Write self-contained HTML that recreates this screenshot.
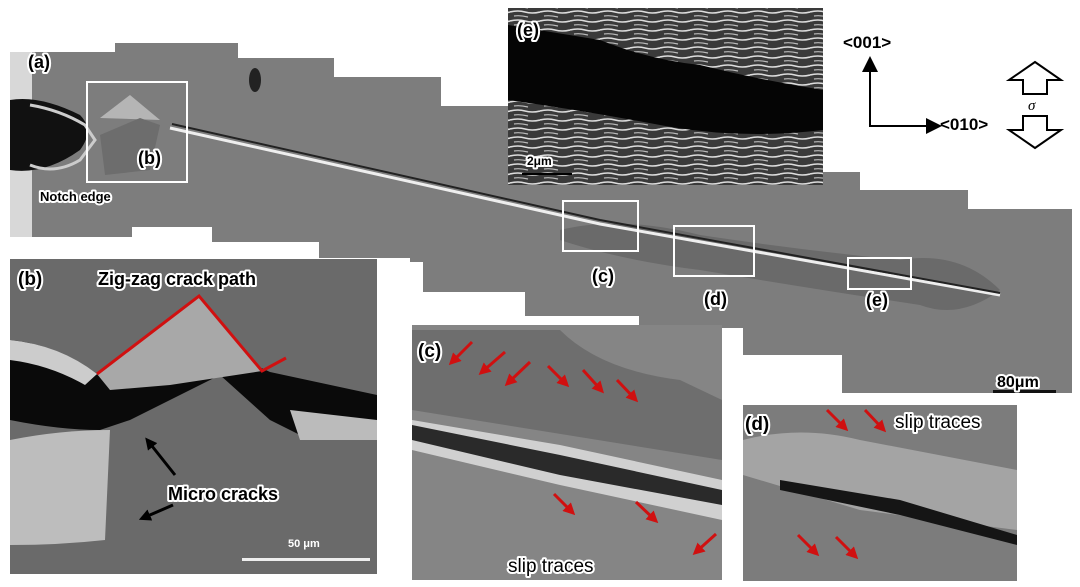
<!DOCTYPE html>
<html><head><meta charset="utf-8"><style>
html,body{margin:0;padding:0;background:#fff;}
svg{display:block;}
text{font-family:"Liberation Sans",sans-serif;font-weight:bold;}
.w text{fill:#fff;stroke:#fff;stroke-width:4px;stroke-linejoin:round;}
.k text{fill:#000;}
</style></head><body>
<svg width="1080" height="587" viewBox="0 0 1080 587" xmlns="http://www.w3.org/2000/svg">
<defs>
<pattern id="lam" width="30" height="9" patternUnits="userSpaceOnUse">
<rect width="30" height="9" fill="#3a3a3a"/>
<path d="M0 3 Q8 1 15 3 T30 3" stroke="#ddd" stroke-width="1.6" fill="none"/>
<path d="M4 7 Q10 6 18 8" stroke="#bbb" stroke-width="1.2" fill="none"/>
</pattern>
<marker id="ah" markerWidth="8" markerHeight="8" refX="6" refY="4" orient="auto"><path d="M0 0 L8 4 L0 8 z" fill="#000"/></marker>
<marker id="rh" markerWidth="4" markerHeight="4" refX="2.5" refY="2" orient="auto"><path d="M0 0 L4 2 L0 4 z" fill="#d01010"/></marker>
<marker id="kh" markerWidth="4" markerHeight="4" refX="2.5" refY="2" orient="auto"><path d="M0 0 L4 2 L0 4 z" fill="#000"/></marker>
</defs>

<polygon fill="#7d7d7d" points="10,52 115,52 115,43 238,43 238,58 334,58 334,77 441,77 441,106 508,106 508,185 823,185 823,172 860,172 860,190 968,190 968,209 1072,209 1072,393 842,393 842,355 743,355 743,328 639,328 639,316 525,316 525,292 423,292 423,262 410,262 410,258 319,258 319,242 212,242 212,227 132,227 132,237 10,237"/>
<rect x="10" y="52" width="22" height="185" fill="#d8d8d8"/>
<path d="M10 100 Q40 95 80 115 Q95 130 80 150 Q45 175 10 170 Z" fill="#111"/>
<path d="M30 105 Q60 110 85 125 L95 140 L80 160 Q55 175 30 165" fill="none" stroke="#ccc" stroke-width="3"/>
<polygon points="100,118 130,95 160,120" fill="#b5b5b5"/>
<polygon points="100,135 140,118 160,125 150,170 105,175" fill="#6d6d6d"/>
<ellipse cx="255" cy="80" rx="6" ry="12" fill="#222"/>
<path d="M560 230 Q620 215 700 235 Q800 250 900 260 Q960 250 1000 290 Q960 320 920 305 Q820 290 700 270 Q620 260 560 240 Z" fill="#5e5e5e" opacity="0.6"/>
<path d="M170 128 L600 224 L1000 295" stroke="#eee" stroke-width="3" fill="none"/>
<path d="M172 124 L600 220 L1000 293" stroke="#222" stroke-width="2" fill="none"/>
<rect x="87" y="82" width="100" height="100" fill="none" stroke="#fff" stroke-width="2"/>
<rect x="563" y="201" width="75" height="50" fill="none" stroke="#fff" stroke-width="2"/>
<rect x="674" y="226" width="80" height="50" fill="none" stroke="#fff" stroke-width="2"/>
<rect x="848" y="258" width="63" height="31" fill="none" stroke="#fff" stroke-width="2"/>

<rect x="508" y="8" width="315" height="177" fill="url(#lam)"/>
<path d="M508 25 L600 40 Q650 60 700 65 Q760 80 823 90 L823 130 Q740 140 660 125 Q580 110 508 100 Z" fill="#050505"/>
<rect x="522" y="173" width="50" height="2" fill="#000"/>
<rect x="993" y="390" width="63" height="3" fill="#111"/>

<line x1="870" y1="126" x2="870" y2="60" stroke="#000" stroke-width="2" marker-end="url(#ah)"/>
<line x1="869" y1="126" x2="938" y2="126" stroke="#000" stroke-width="2" marker-end="url(#ah)"/>
<text x="843" y="48" font-size="17">&lt;001&gt;</text>
<text x="940" y="130" font-size="17">&lt;010&gt;</text>
<polygon points="1035,62 1061,80 1047,80 1047,94 1023,94 1023,80 1009,80" fill="#fff" stroke="#000" stroke-width="2"/>
<polygon points="1035,148 1061,130 1047,130 1047,116 1023,116 1023,130 1009,130" fill="#fff" stroke="#000" stroke-width="2"/>
<text x="1028" y="110" font-size="15" style="font-family:'Liberation Serif',serif;font-weight:normal;font-style:italic">σ</text>

<!-- panel (b) -->
<rect x="10" y="259" width="367" height="315" fill="#6a6a6a"/>
<path d="M10 340 Q60 345 95 375 L200 340 L270 372 L377 395 L377 440 L300 435 L270 420 L220 375 L130 420 L100 430 Q60 430 10 420 Z" fill="#0a0a0a"/>
<path d="M10 340 Q60 345 97 374 L85 385 Q50 365 10 360 Z" fill="#ccc"/>
<polygon points="97,374 199,296 262,371 170,385 110,390" fill="#a8a8a8"/>
<path d="M10 440 Q60 430 110 430 L105 540 Q60 545 10 545 Z" fill="#bdbdbd"/>
<path d="M290 410 L377 420 L377 440 L300 440 Z" fill="#bbb"/>
<polyline points="97,374 199,296 262,371 286,358" fill="none" stroke="#d01010" stroke-width="3"/>
<line x1="175" y1="475" x2="148" y2="441" stroke="#000" stroke-width="3" marker-end="url(#kh)"/>
<line x1="173" y1="505" x2="143" y2="518" stroke="#000" stroke-width="3" marker-end="url(#kh)"/>
<text x="288" y="547" font-size="11" fill="#fff" font-weight="normal">50 μm</text>
<rect x="242" y="558" width="128" height="3" fill="#eee"/>

<!-- panel (c) -->
<rect x="412" y="325" width="310" height="255" fill="#858585"/>
<path d="M412 330 L560 330 Q600 370 680 380 L722 400 L722 460 L412 410 Z" fill="#6e6e6e"/>
<path d="M412 420 L560 445 L722 480 L722 520 L560 485 L412 450 Z" fill="#d0d0d0"/>
<path d="M412 425 L560 455 L722 490 L722 505 L560 475 L412 440 Z" fill="#2a2a2a"/>
<g stroke="#d01010" stroke-width="3" fill="none" marker-end="url(#rh)">
<line x1="472" y1="342" x2="452" y2="362"/><line x1="505" y1="352" x2="482" y2="372"/><line x1="530" y1="362" x2="508" y2="383"/>
<line x1="548" y1="366" x2="566" y2="384"/><line x1="583" y1="370" x2="601" y2="390"/><line x1="617" y1="380" x2="635" y2="399"/>
<line x1="554" y1="494" x2="572" y2="512"/><line x1="636" y1="502" x2="655" y2="520"/><line x1="716" y1="534" x2="696" y2="552"/>
</g>

<!-- panel (d) -->
<rect x="743" y="405" width="274" height="176" fill="#7c7c7c"/>
<path d="M743 440 Q800 425 860 440 L1017 470 L1017 530 L860 510 L743 475 Z" fill="#a4a4a4"/>
<path d="M780 480 L900 500 L1017 535 L1017 545 L900 515 L780 490 Z" fill="#151515"/>
<g stroke="#d01010" stroke-width="3" fill="none" marker-end="url(#rh)">
<line x1="827" y1="410" x2="845" y2="428"/><line x1="865" y1="410" x2="883" y2="429"/>
<line x1="798" y1="535" x2="816" y2="553"/><line x1="836" y1="537" x2="855" y2="556"/>
</g>

<!-- haloed labels: white underlay then black -->
<g class="w">
<text x="28" y="68" font-size="18">(a)</text>
<text x="138" y="164" font-size="18">(b)</text>
<text x="592" y="282" font-size="18">(c)</text>
<text x="704" y="305" font-size="18">(d)</text>
<text x="866" y="306" font-size="18">(e)</text>
<text x="997" y="387" font-size="16">80μm</text>
<text x="40" y="201" font-size="13">Notch edge</text>
<text x="517" y="36" font-size="18">(e)</text>
<text x="527" y="165" font-size="12">2μm</text>
<text x="18" y="285" font-size="19">(b)</text>
<text x="98" y="285" font-size="18">Zig-zag crack path</text>
<text x="168" y="500" font-size="18">Micro cracks</text>
<text x="418" y="357" font-size="19">(c)</text>
<text x="508" y="572" font-size="19" style="font-weight:normal">slip traces</text>
<text x="745" y="430" font-size="19">(d)</text>
<text x="895" y="428" font-size="19" style="font-weight:normal">slip traces</text>
</g>
<g class="k">
<text x="28" y="68" font-size="18">(a)</text>
<text x="138" y="164" font-size="18">(b)</text>
<text x="592" y="282" font-size="18">(c)</text>
<text x="704" y="305" font-size="18">(d)</text>
<text x="866" y="306" font-size="18">(e)</text>
<text x="997" y="387" font-size="16">80μm</text>
<text x="40" y="201" font-size="13">Notch edge</text>
<text x="517" y="36" font-size="18">(e)</text>
<text x="527" y="165" font-size="12">2μm</text>
<text x="18" y="285" font-size="19">(b)</text>
<text x="98" y="285" font-size="18">Zig-zag crack path</text>
<text x="168" y="500" font-size="18">Micro cracks</text>
<text x="418" y="357" font-size="19">(c)</text>
<text x="508" y="572" font-size="19" style="font-weight:normal">slip traces</text>
<text x="745" y="430" font-size="19">(d)</text>
<text x="895" y="428" font-size="19" style="font-weight:normal">slip traces</text>
</g>
</svg>
</body></html>
